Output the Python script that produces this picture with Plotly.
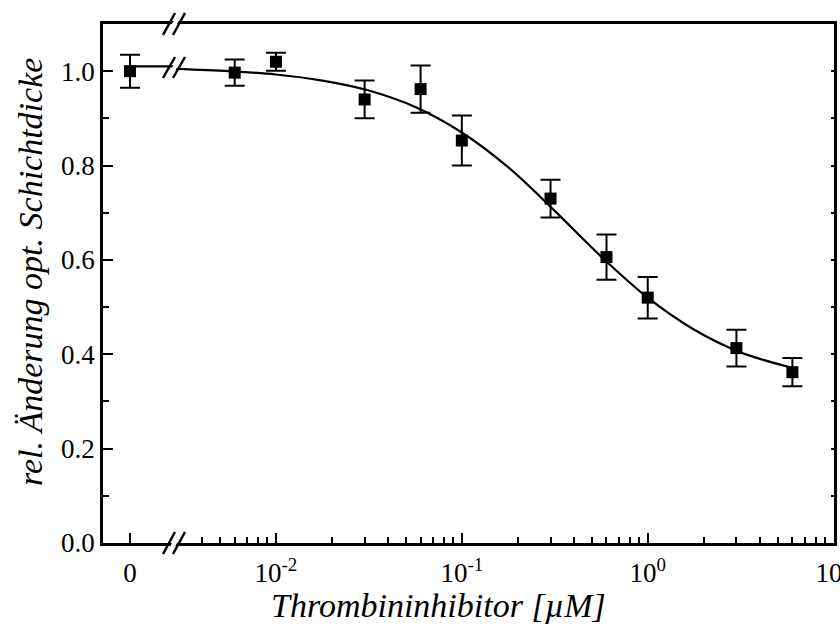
import plotly.graph_objects as go

# ---- data ----
zero_conc = [0]
zero_val = [1.00]
zero_err = [0.035]

conc = [0.006, 0.01, 0.03, 0.06, 0.1, 0.3, 0.6, 1, 3, 6]
vals = [0.997, 1.02, 0.94, 0.962, 0.853, 0.73, 0.606, 0.52, 0.413, 0.362]
errs = [0.028, 0.019, 0.04, 0.05, 0.053, 0.04, 0.048, 0.044, 0.039, 0.03]

# fitted curve
fit_zero_x = [0, 0.63]
fit_zero_y = [1.01, 1.01]
fit_x = [0.0029, 0.00562, 0.01, 0.0178, 0.0316, 0.0562, 0.1, 0.178, 0.316,
         0.562, 1.0, 1.78, 3.16, 5.62, 6.3]
fit_y = [1.005, 1.000, 0.993, 0.980, 0.959, 0.924, 0.870, 0.796, 0.704,
         0.607, 0.520, 0.452, 0.404, 0.374, 0.369]

x_major = [0.01, 0.1, 1, 10]
x_major_text = ["10<sup>-2</sup>", "10<sup>-1</sup>", "10<sup>0</sup>", "10<sup>1</sup>"]
x_minor = [k * 1e-3 for k in range(4, 10)] + [k * 1e-2 for k in range(2, 10)] + \
          [k * 1e-1 for k in range(2, 10)] + [k * 1.0 for k in range(2, 10)]
y_major = [0.0, 0.2, 0.4, 0.6, 0.8, 1.0]
y_major_text = ["0.0", "0.2", "0.4", "0.6", "0.8", "1.0"]

FONT = "'Liberation Serif', 'Times New Roman', Times, serif"
W, H = 840, 631
L, R, T, B = 103, 834, 24, 543


def px(xp):
    return (xp - L) / (R - L)


def py(yp):
    return (B - yp) / (B - T)


fig = go.Figure()

fig.add_trace(go.Scatter(x=fit_zero_x, y=fit_zero_y, mode="lines",
                         line=dict(color="black", width=2.2),
                         xaxis="x", yaxis="y", showlegend=False, cliponaxis=True))
fig.add_trace(go.Scatter(x=fit_x, y=fit_y, mode="lines",
                         line=dict(color="black", width=2.2, shape="spline"),
                         xaxis="x2", yaxis="y2", showlegend=False))

fig.add_trace(go.Scatter(x=zero_conc, y=zero_val, mode="markers",
                         marker=dict(symbol="square", size=12, color="black"),
                         error_y=dict(type="data", array=zero_err, color="black",
                                      thickness=2, width=10),
                         xaxis="x", yaxis="y", showlegend=False, cliponaxis=False))
fig.add_trace(go.Scatter(x=conc, y=vals, mode="markers",
                         marker=dict(symbol="square", size=12, color="black"),
                         error_y=dict(type="data", array=errs, color="black",
                                      thickness=2, width=10),
                         xaxis="x2", yaxis="y2", showlegend=False, cliponaxis=False))

split = px(176)
tickfont = dict(family=FONT, size=27, color="black")

fig.update_layout(
    width=W, height=H,
    margin=dict(l=L, r=W - R, t=T, b=H - B, autoexpand=False),
    paper_bgcolor="white", plot_bgcolor="white",
    font=dict(family=FONT, color="black"),
    xaxis=dict(domain=[0, split], range=[-0.37, 0.63], tickmode="array",
               tickvals=[0], ticktext=["0"], ticks="inside", ticklen=10,
               tickwidth=2, tickcolor="black", showline=True, linewidth=2.5,
               linecolor="black", mirror=True, showgrid=False, zeroline=False,
               tickfont=tickfont, anchor="y", ticklabelstandoff=4,
               automargin=False),
    xaxis2=dict(domain=[split, 1], type="log", range=[-2.5376, 1.002],
                tickmode="array", tickvals=x_major, ticktext=x_major_text,
                ticks="inside", ticklen=10, tickwidth=2, tickcolor="black",
                minor=dict(tickmode="array", tickvals=x_minor, ticks="inside",
                           ticklen=6, tickwidth=2, tickcolor="black", showgrid=False),
                showline=True, linewidth=2.5, linecolor="black", mirror=True,
                showgrid=False, zeroline=False, tickfont=tickfont, anchor="y2",
                ticklabelstandoff=4, ticklabeloverflow="allow", automargin=False),
    yaxis=dict(range=[0, 1.1], tickmode="array", tickvals=y_major,
               ticktext=y_major_text, ticks="inside", ticklen=10, tickwidth=2,
               tickcolor="black",
               minor=dict(dtick=0.1, tick0=0, ticks="inside", ticklen=6,
                          tickwidth=2, tickcolor="black", showgrid=False),
               showline=True, linewidth=2.5, linecolor="black", showgrid=False,
               zeroline=False, tickfont=tickfont, anchor="x", automargin=False),
    yaxis2=dict(range=[0, 1.1], matches="y", anchor="x2", side="right",
                tickmode="linear", tick0=0, dtick=0.1,
                ticks="inside", ticklen=3, tickwidth=1.5, tickcolor="black",
                showticklabels=False, showline=True, linewidth=2.5,
                linecolor="black", showgrid=False, zeroline=False,
                automargin=False),
)

# axis-break marks (//) on bottom axis, top axis and on the curve
shapes = []
for (yb, yt) in [(554, 532), (35, 13), (78, 57)]:
    shapes.append(dict(type="path", xref="paper", yref="paper",
                       path=f"M {px(166)} {py(yb)} L {px(178)} {py(yt)} "
                            f"L {px(183)} {py(yt)} L {px(171)} {py(yb)} Z",
                       fillcolor="white", line=dict(width=0), layer="above"))
    for x0 in (163, 173):
        shapes.append(dict(type="line", xref="paper", yref="paper",
                           x0=px(x0), y0=py(yb), x1=px(x0 + 12), y1=py(yt),
                           line=dict(color="black", width=2.5), layer="above"))
fig.update_layout(shapes=shapes)

fig.add_annotation(text="<i>Thrombininhibitor [µM]</i>", xref="paper", yref="paper",
                   x=px(438), y=py(605), xanchor="center", yanchor="middle",
                   showarrow=False, font=dict(family=FONT, size=34, color="black"))
fig.add_annotation(text="<i>rel. Änderung opt. Schichtdicke</i>", xref="paper",
                   yref="paper", x=px(30), y=py(272), xanchor="center",
                   yanchor="middle", textangle=-90, showarrow=False,
                   font=dict(family=FONT, size=34, color="black"))

fig.write_html("out.html")
